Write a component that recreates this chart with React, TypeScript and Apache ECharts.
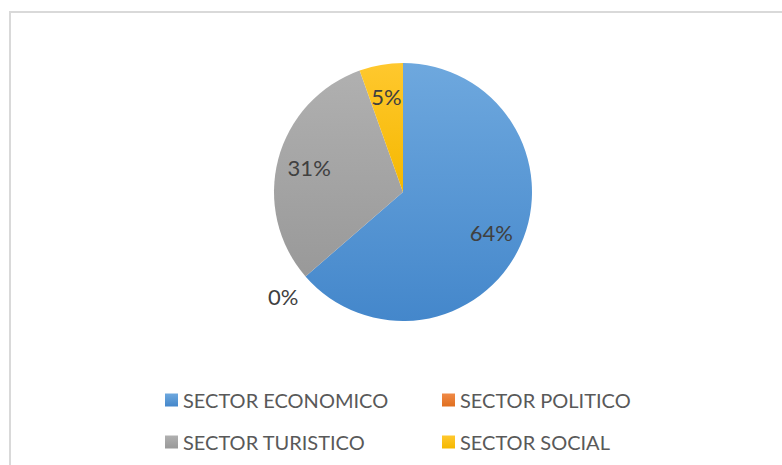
import React, { useEffect, useRef } from "react";
import * as echarts from "echarts";

const categories = ["SECTOR ECONOMICO", "SECTOR POLITICO", "SECTOR TURISTICO", "SECTOR SOCIAL"];
const values = [35, 0, 17, 3];
const colorsTop = ["#6ea8de", "#f08a47", "#b0b0b0", "#ffc82e"];
const colorsBottom = ["#4487cb", "#e06f1f", "#999999", "#f5b800"];
const legendLeftColumn = ["SECTOR ECONOMICO", "SECTOR TURISTICO"];
const legendRightColumn = ["SECTOR POLITICO", "SECTOR SOCIAL"];

const FONT = "Lato";

export default function App() {
  const ref = useRef<HTMLDivElement>(null);
  useEffect(() => {
    const chart = echarts.init(ref.current!, null, { renderer: "svg" });
    const total = values.reduce((a, b) => a + b, 0);
    const pct = (v: number) => Math.round((v / total) * 100) + "%";
    const grad = (i: number) =>
      new echarts.graphic.LinearGradient(0, 0, 0, 1, [
        { offset: 0, color: colorsTop[i] },
        { offset: 1, color: colorsBottom[i] },
      ]);
    const visibleData = categories.map((name, i) => ({
      name,
      value: values[i],
      itemStyle: { color: grad(i) },
      label:
        values[i] === 0
          ? {
              show: true,
              position: "outside",
              formatter: () => pct(values[i]),
              color: "#404040",
              fontSize: 22,
              fontFamily: FONT,
            }
          : { show: false },
      labelLine: { show: false, length: 12, length2: 8 },
    }));
    const labelData = categories.map((name, i) => ({
      name,
      value: values[i],
      label: { show: values[i] !== 0 },
    }));
    const legendCommon = {
      orient: "vertical" as const,
      top: 385,
      itemWidth: 13,
      itemHeight: 13,
      itemGap: 22,
      icon: "rect",
      textStyle: { fontSize: 20, fontFamily: FONT, color: "#595959", padding: [0, 0, 0, 0] },
      selectedMode: false,
    };
    chart.setOption({
      animation: false,
      backgroundColor: "#ffffff",
      color: colorsBottom,
      graphic: [
        {
          type: "rect",
          shape: { x: 10, y: 12, width: 800, height: 480 },
          style: { fill: "none", stroke: "#d9d9d9", lineWidth: 2 },
          silent: true,
        },
      ],
      legend: [
        { ...legendCommon, left: 160, data: legendLeftColumn },
        { ...legendCommon, left: 437, data: legendRightColumn },
      ],
      series: [
        {
          type: "pie",
          center: [403, 192],
          radius: [0, 129],
          startAngle: 90,
          clockwise: true,
          data: visibleData,
          avoidLabelOverlap: false,
          emphasis: { disabled: true },
          silent: true,
          itemStyle: { borderWidth: 0 },
          labelLayout: { dx: 15, dy: 12 },
        },
        {
          type: "pie",
          center: [403, 192],
          radius: [0, 188],
          startAngle: 90,
          clockwise: true,
          data: labelData,
          silent: true,
          emphasis: { disabled: true },
          itemStyle: { color: "rgba(0,0,0,0)", borderWidth: 0 },
          label: {
            show: true,
            position: "inside",
            formatter: (p: any) => pct(p.value),
            color: "#404040",
            fontSize: 22,
            fontFamily: FONT,
          },
          labelLine: { show: false },
          legendHoverLink: false,
        },
      ],
    });
    return () => chart.dispose();
  }, []);
  return (
    <div
      ref={ref}
      style={{ position: "absolute", left: 0, top: 0, width: 782, height: 465 }}
    />
  );
}
